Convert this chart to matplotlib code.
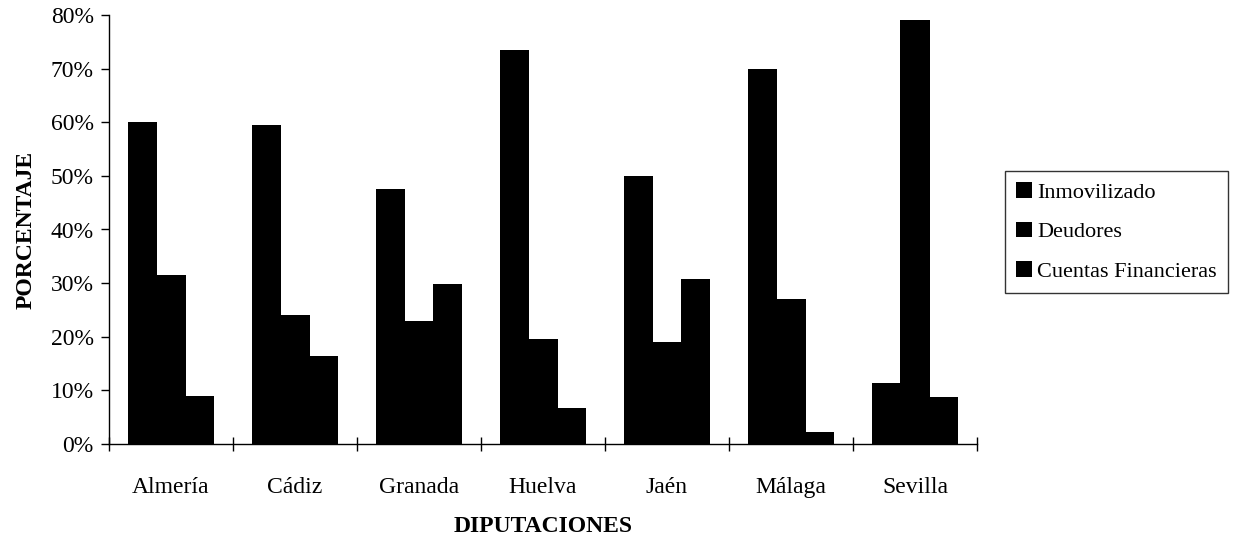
import numpy as np
import matplotlib
matplotlib.use("Agg")
import matplotlib.pyplot as plt
from matplotlib.ticker import PercentFormatter

plt.rcParams['font.family'] = ['Liberation Serif', 'DejaVu Serif']

# Datos por diputación (porcentaje)
diputaciones = ["Almería", "Cádiz", "Granada", "Huelva", "Jaén", "Málaga", "Sevilla"]
inmovilizado = [60.0, 59.5, 47.5, 73.5, 50.0, 70.0, 11.3]
deudores = [31.5, 24.0, 23.0, 19.5, 19.0, 27.0, 79.0]
cuentas_fin = [9.0, 16.5, 29.8, 6.8, 30.8, 2.2, 8.8]

series = [("Inmovilizado", inmovilizado),
          ("Deudores", deudores),
          ("Cuentas Financieras", cuentas_fin)]

fig = plt.figure(figsize=(12.34, 5.39), dpi=100)
ax = fig.add_axes([109/1234, 1 - 444/539, 868/1234, 429/539])

x = np.arange(len(diputaciones))
w = 0.23
for i, (nombre, vals) in enumerate(series):
    ax.bar(x + (i - 1) * w, vals, width=w + 0.004, color="black",
           linewidth=0, label=nombre)

ax.set_xlim(-0.5, len(diputaciones) - 0.5)
ax.set_ylim(0, 80)
ax.set_yticks(np.arange(0, 81, 10))
ax.yaxis.set_major_formatter(PercentFormatter(decimals=0))
ax.set_xticks(x)
ax.set_xticklabels(diputaciones)
ax.set_xticks(np.arange(-0.5, len(diputaciones)), minor=True)
ax.tick_params(axis="x", which="major", length=0, pad=24, labelsize=17)
ax.tick_params(axis="x", which="minor", direction="inout", length=10, width=1)
ax.tick_params(axis="y", direction="out", length=6, width=1, labelsize=17, pad=5)

ax.spines["top"].set_visible(False)
ax.spines["right"].set_visible(False)
ax.spines["left"].set_linewidth(1)
ax.spines["bottom"].set_linewidth(1)

ax.set_xlabel("DIPUTACIONES", fontsize=17, fontweight="bold", labelpad=13)
ax.set_ylabel("PORCENTAJE", fontsize=17, fontweight="bold", labelpad=10)

# leyenda en coordenadas de figura
leg = fig.legend(loc="upper right", bbox_to_anchor=(1228/1234, 1 - 171/539),
                 frameon=True, fancybox=False, edgecolor="black", fontsize=16,
                 handlelength=0.7, handleheight=0.7, handletextpad=0.25,
                 borderpad=0.5, labelspacing=0.85, borderaxespad=0)
leg.get_frame().set_linewidth(1)

fig.savefig("out.png", dpi=100, facecolor="white")
